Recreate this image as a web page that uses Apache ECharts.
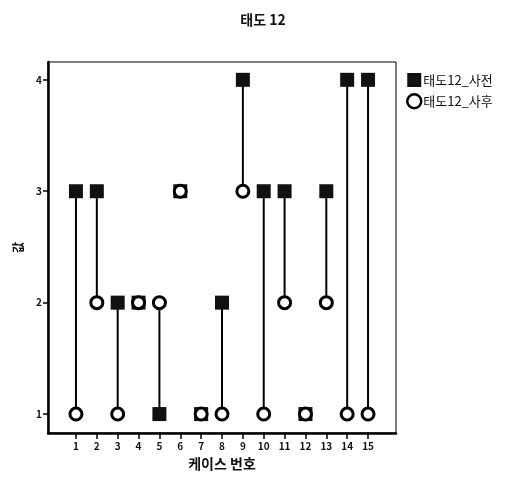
<!DOCTYPE html>
<html>
<head>
<meta charset="utf-8">
<script src="https://cdn.jsdelivr.net/npm/echarts@6/dist/echarts.min.js"></script>
<style>
  html, body { margin: 0; padding: 0; background: #fff; }
  #main { width: 517px; height: 481px; }
</style>
</head>
<body>
<div id="main"></div>
<script>
// 케이스 번호와 사전/사후 값
const cases = [1, 2, 3, 4, 5, 6, 7, 8, 9, 10, 11, 12, 13, 14, 15]
const preValues = [3, 3, 2, 2, 1, 3, 1, 2, 4, 3, 3, 1, 3, 4, 4]
const postValues = [1, 2, 1, 2, 2, 3, 1, 1, 3, 1, 2, 1, 2, 1, 1]
const yTicks = [1, 2, 3, 4]
const xTickLabels = ['1', '2', '3', '4', '5', '6', '7', '8', '9', '10', '11', '12', '13', '14', '15']

const font = '"Noto Sans CJK KR", "DejaVu Sans", sans-serif'
const chart = echarts.init(document.getElementById('main'))

const preData = cases.map((c, i) => [c, preValues[i]])
const postData = cases.map((c, i) => [c, postValues[i]])
const rangeData = cases.map((c, i) => [c, preValues[i], postValues[i]])

chart.setOption({
  animation: false,
  backgroundColor: '#fff',
  title: {
    text: '태도 12',
    left: 258,
    textAlign: 'center',
    top: 8,
    textStyle: { fontFamily: font, fontSize: 14, fontWeight: 'bold', color: '#111' }
  },
  legend: {
    orient: 'vertical',
    left: 401,
    top: 68,
    itemWidth: 14,
    itemHeight: 14,
    itemGap: 6,
    data: [
      { name: '태도12_사전', icon: 'rect' },
      { name: '태도12_사후', icon: 'circle', itemStyle: { color: '#fff', borderColor: '#000', borderWidth: 2.5 } }
    ],
    textStyle: { fontFamily: font, fontSize: 13, color: '#111', padding: [0, 0, 0, -3] }
  },
  grid: {
    left: 48, right: 121, top: 62, bottom: 48,
    show: true, borderColor: '#000', borderWidth: 1
  },
  xAxis: {
    type: 'value',
    min: -0.34,
    max: 16.34,
    name: '케이스 번호',
    nameLocation: 'middle',
    nameGap: 24,
    nameTextStyle: { fontFamily: font, fontSize: 14, fontWeight: 'bold', color: '#111' },
    axisLine: { show: true, onZero: false, lineStyle: { color: '#000', width: 2.5 } },
    axisTick: { show: true, length: 6, customValues: cases, lineStyle: { color: '#000', width: 1.5 } },
    axisLabel: {
      customValues: cases,
      formatter: v => xTickLabels[cases.indexOf(v)] || '',
      fontFamily: font, fontSize: 10, fontWeight: 'bold', color: '#111', margin: 8
    },
    splitLine: { show: false }
  },
  yAxis: {
    type: 'value',
    min: 0.83,
    max: 4.16,
    name: '값',
    nameLocation: 'middle',
    nameGap: 24,
    nameTextStyle: { fontFamily: font, fontSize: 12, fontWeight: 'bold', color: '#111' },
    axisLine: { show: true, onZero: false, lineStyle: { color: '#000', width: 2.5 } },
    axisTick: { show: true, length: 5, customValues: yTicks, lineStyle: { color: '#000', width: 1.5 } },
    axisLabel: {
      customValues: yTicks,
      fontFamily: font, fontSize: 10, fontWeight: 'bold', color: '#111', margin: 6
    },
    splitLine: { show: false }
  },
  series: [
    {
      // 사전-사후 연결선
      type: 'custom',
      name: 'range',
      silent: true,
      z: 1,
      data: rangeData,
      renderItem: (params, api) => {
        const a = api.coord([api.value(0), api.value(1)])
        const b = api.coord([api.value(0), api.value(2)])
        return {
          type: 'line',
          shape: { x1: a[0], y1: a[1], x2: b[0], y2: b[1] },
          style: { stroke: '#000', lineWidth: 2 }
        }
      }
    },
    {
      name: '태도12_사전',
      type: 'scatter',
      z: 2,
      symbol: 'rect',
      symbolSize: 14,
      itemStyle: { color: '#111', opacity: 1 },
      data: preData
    },
    {
      name: '태도12_사후',
      type: 'scatter',
      z: 3,
      symbol: 'circle',
      symbolSize: 12,
      itemStyle: { color: '#fff', borderColor: '#000', borderWidth: 3, opacity: 1 },
      data: postData
    }
  ]
})
</script>
</body>
</html>
